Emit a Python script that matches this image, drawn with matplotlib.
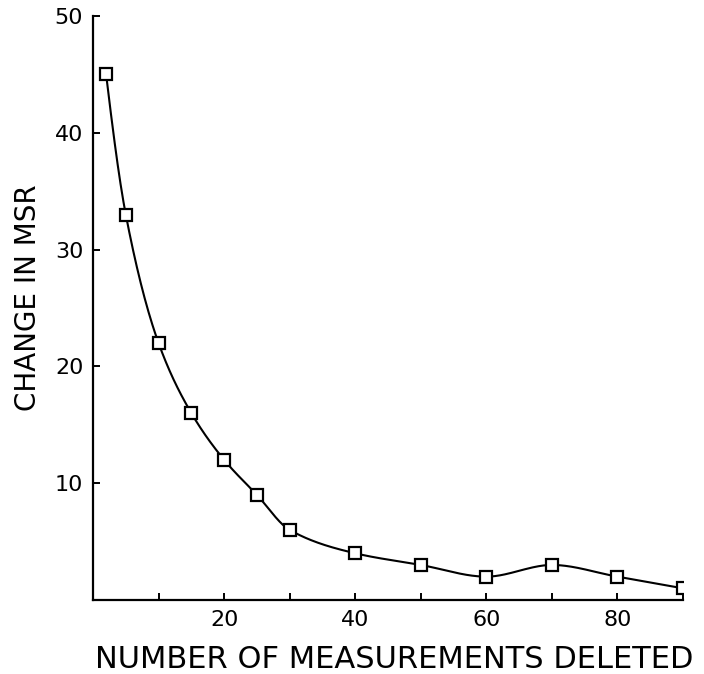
import numpy as np
import matplotlib.pyplot as plt

# measurements deleted vs. change in mean squared residual
deleted = [2, 5, 10, 15, 20, 25, 30, 40, 50, 60, 70, 80, 90]
msr_change = [45, 33, 22, 16, 12, 9, 6, 4, 3, 2, 3, 2, 1]

x_ticks = [10, 20, 30, 40, 50, 60, 70, 80, 90]
x_labels = ['', '20', '', '40', '', '60', '', '80', '']
y_ticks = [10, 20, 30, 40, 50]


def pchip(x, y, xs):
    # shape-preserving cubic through the points (Fritsch-Carlson)
    x = np.asarray(x, float)
    y = np.asarray(y, float)
    h = np.diff(x)
    d = np.diff(y) / h
    n = len(x)
    m = np.zeros(n)
    for i in range(1, n - 1):
        if d[i - 1] * d[i] > 0:
            w1 = 2 * h[i] + h[i - 1]
            w2 = h[i] + 2 * h[i - 1]
            m[i] = (w1 + w2) / (w1 / d[i - 1] + w2 / d[i])
    m[0] = ((2 * h[0] + h[1]) * d[0] - h[0] * d[1]) / (h[0] + h[1])
    if np.sign(m[0]) != np.sign(d[0]):
        m[0] = 0
    m[-1] = ((2 * h[-1] + h[-2]) * d[-1] - h[-1] * d[-2]) / (h[-1] + h[-2])
    if np.sign(m[-1]) != np.sign(d[-1]):
        m[-1] = 0
    idx = np.clip(np.searchsorted(x, xs) - 1, 0, n - 2)
    t = (xs - x[idx]) / h[idx]
    h00 = 2 * t**3 - 3 * t**2 + 1
    h10 = t**3 - 2 * t**2 + t
    h01 = -2 * t**3 + 3 * t**2
    h11 = t**3 - t**2
    return (h00 * y[idx] + h10 * h[idx] * m[idx]
            + h01 * y[idx + 1] + h11 * h[idx] * m[idx + 1])


xs = np.linspace(deleted[0], deleted[-1], 600)
ys = pchip(deleted, msr_change, xs)

fig = plt.figure(figsize=(7.04, 6.74), dpi=100)
ax = fig.add_axes([93 / 704, 74 / 674, 590 / 704, 584 / 674])

ax.plot(xs, ys, color='black', lw=1.5)
ax.plot(deleted, msr_change, 's', ms=9, mfc='white', mec='black', mew=1.6)

ax.set_xlim(0, 90)
ax.set_ylim(0, 50)
ax.set_xticks(x_ticks)
ax.set_xticklabels(x_labels)
ax.set_yticks(y_ticks)

for side in ['top', 'right']:
    ax.spines[side].set_visible(False)
for side in ['left', 'bottom']:
    ax.spines[side].set_linewidth(1.6)

ax.tick_params(direction='in', length=5, width=1.4, labelsize=16, pad=7)

fig.text(28 / 704, 1 - 298 / 674, 'CHANGE IN MSR', rotation=90,
         ha='center', va='center', fontsize=20)
fig.text(394 / 704, 1 - 660 / 674, 'NUMBER OF MEASUREMENTS DELETED',
         ha='center', va='center', fontsize=22)

fig.savefig('out.png', dpi=100)
